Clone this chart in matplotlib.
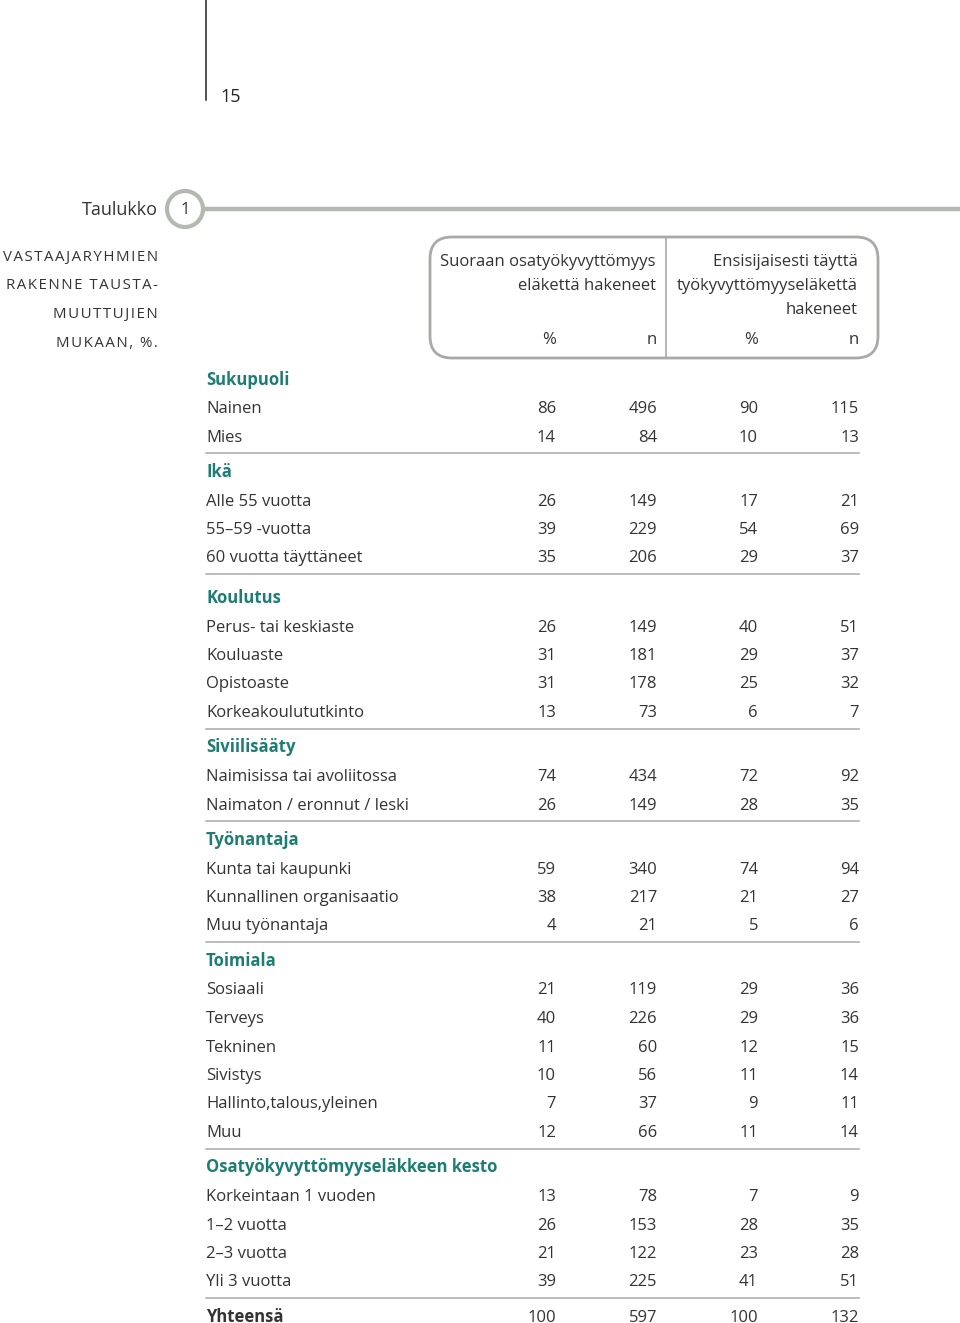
import matplotlib.pyplot as plt
from matplotlib.patches import FancyBboxPatch, Circle

# Table content
groups = ["Sukupuoli", "Ikä", "Koulutus", "Siviilisääty", "Työnantaja",
          "Toimiala", "Osatyökyvyttömyyseläkkeen kesto"]
row_labels = [
    ["Nainen", "Mies"],
    ["Alle 55 vuotta", "55–59 -vuotta", "60 vuotta täyttäneet"],
    ["Perus- tai keskiaste", "Kouluaste", "Opistoaste", "Korkeakoulututkinto"],
    ["Naimisissa tai avoliitossa", "Naimaton / eronnut / leski"],
    ["Kunta tai kaupunki", "Kunnallinen organisaatio", "Muu työnantaja"],
    ["Sosiaali", "Terveys", "Tekninen", "Sivistys",
     "Hallinto,talous,yleinen", "Muu"],
    ["Korkeintaan 1 vuoden", "1–2 vuotta", "2–3 vuotta", "Yli 3 vuotta"],
]
pct_direct = [[86, 14], [26, 39, 35], [26, 31, 31, 13], [74, 26],
              [59, 38, 4], [21, 40, 11, 10, 7, 12], [13, 26, 21, 39]]
n_direct = [[496, 84], [149, 229, 206], [149, 181, 178, 73], [434, 149],
            [340, 217, 21], [119, 226, 60, 56, 37, 66], [78, 153, 122, 225]]
pct_full = [[90, 10], [17, 54, 29], [40, 29, 25, 6], [72, 28],
            [74, 21, 5], [29, 29, 12, 11, 9, 11], [7, 28, 23, 41]]
n_full = [[115, 13], [21, 69, 37], [51, 37, 32, 7], [92, 35],
          [94, 27, 6], [36, 36, 15, 14, 11, 14], [9, 35, 28, 51]]
total_label = "Yhteensä"
totals = [100, 597, 100, 132]

head_direct = ["Suoraan osatyökyvyttömyys", "eläkettä hakeneet"]
head_full = ["Ensisijaisesti täyttä", "työkyvyttömyyseläkettä", "hakeneet"]
caption = ["VASTAAJARYHMIEN", "RAKENNE TAUSTA-", "MUUTTUJIEN", "MUKAAN, %."]

plt.rcParams['font.family'] = ['Open Sans', 'DejaVu Sans']
TEAL = "#1d7d74"
GREY = "#b3b8b0"
TXT = "#333333"
FS = 12

fig = plt.figure(figsize=(9.6, 13.23), dpi=100)
ax = fig.add_axes([0, 0, 1, 1])
ax.set_xlim(0, 960)
ax.set_ylim(1323, 0)
ax.axis('off')

# page number
ax.plot([206, 206], [0, 100], color="#222222", lw=1.1)
ax.text(220, 101.5, "15", fontsize=13, color="#222222", va='baseline')

# "Taulukko 1" marker
ax.plot([204, 960], [209, 209], color=GREY, lw=3.2, solid_capstyle='butt')
ax.add_patch(Circle((185, 209), 18, facecolor="white", edgecolor=GREY, lw=3))
ax.text(158, 215, "Taulukko", fontsize=13, color=TXT, ha='right', va='baseline')
ax.text(185, 214.5, "1", fontsize=12, color=TXT, ha='center', va='baseline')

# caption with letter spacing
for i, line in enumerate(caption):
    spaced = "\u200a".join(line)
    ax.text(158, 260.5 + i * 28.7, spaced, fontsize=10.8, color=TXT,
            ha='right', va='baseline')

# header box
ax.add_patch(FancyBboxPatch((430, 237), 448, 121,
                            boxstyle="round,pad=0,rounding_size=22",
                            facecolor="white", edgecolor="#a8aaa8", lw=2))
ax.plot([666, 666], [237, 358], color="#a8aaa8", lw=1.2)
for i, s in enumerate(head_direct):
    ax.text(656, 266 + i * 24, s, fontsize=FS, color=TXT, ha='right',
            va='baseline')
for i, s in enumerate(head_full):
    ax.text(858, 266 + i * 24, s, fontsize=FS, color=TXT, ha='right',
            va='baseline')
col_x = [556, 657, 758, 859]
for x, s in zip(col_x, ["%", "n", "%", "n"]):
    ax.text(x, 344, s, fontsize=FS, color=TXT, ha='right', va='baseline')

# body rows (baselines in pixels)
LX = 206
pitch = 28.5
head_gap = [0, 23.7, 29, 24, 24, 24, 24]
y = 384.8
line_y = None
for g, name in enumerate(groups):
    if g > 0:
        y = line_y + head_gap[g]
    ax.text(LX, y, name, fontsize=FS, color=TEAL, fontweight='bold',
            va='baseline')
    for k, lab in enumerate(row_labels[g]):
        y += pitch
        ax.text(LX, y, lab, fontsize=FS, color=TXT, va='baseline')
        vals = [pct_direct[g][k], n_direct[g][k], pct_full[g][k], n_full[g][k]]
        for x, v in zip(col_x, vals):
            ax.text(x, y, str(v), fontsize=FS, color=TXT, ha='right',
                    va='baseline')
    line_y = y + 11.5
    ax.plot([LX, 859], [line_y, line_y], color="#a8a8a8", lw=1.1)

y = line_y + 23.5
ax.text(LX, y, total_label, fontsize=FS, color=TXT, fontweight='bold',
        va='baseline')
for x, v in zip(col_x, totals):
    ax.text(x, y, str(v), fontsize=FS, color=TXT, ha='right', va='baseline')

fig.savefig("out.png", dpi=100, facecolor="white")
